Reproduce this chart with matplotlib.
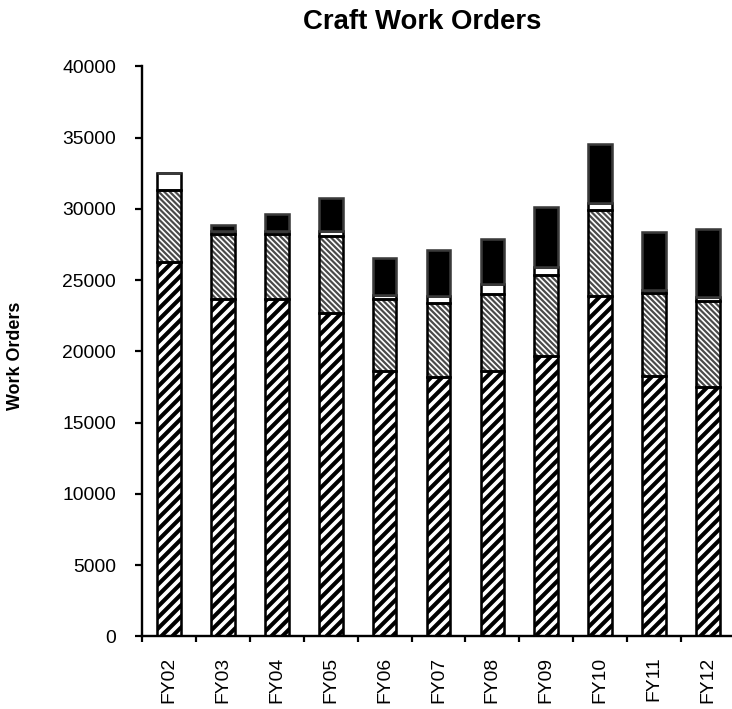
import matplotlib.pyplot as plt
import numpy as np

years = ['FY02', 'FY03', 'FY04', 'FY05', 'FY06', 'FY07', 'FY08', 'FY09', 'FY10', 'FY11', 'FY12']
striped = [26300, 23700, 23700, 22700, 18600, 18200, 18600, 19650, 23900, 18300, 17500]
fine = [5050, 4540, 4560, 5430, 5090, 5200, 5440, 5720, 6000, 5790, 6070]
white = [1150, 230, 210, 350, 300, 460, 660, 530, 490, 190, 240]
black = [0, 370, 1180, 2300, 2560, 3260, 3210, 4250, 4200, 4070, 4780]

plt.rcParams['font.family'] = ['Liberation Sans', 'DejaVu Sans']

DPI = 66
fig = plt.figure(figsize=(732 / DPI, 709 / DPI), dpi=DPI)
ax = fig.add_axes([0.194, 0.1023, 0.81, 0.804])

x = np.arange(len(years))
w = 0.44


def segment(bottom, height, face, hatch=None, hcolor='black', hlw=1.0, edge='black'):
    with plt.rc_context({'hatch.linewidth': hlw}):
        bars = ax.bar(x, height, w, bottom=bottom, color=face,
                      edgecolor=hcolor, hatch=hatch, linewidth=0, zorder=2)
    for b in bars:
        if hasattr(b, 'set_hatch_linewidth'):
            b.set_hatch_linewidth(hlw)
    ax.bar(x, height, w, bottom=bottom, facecolor='none',
           edgecolor=edge, linewidth=2.8, zorder=3)


b0 = np.zeros(len(years))
b1 = b0 + striped
b2 = b1 + fine
b3 = b2 + white

segment(b0, striped, 'black', '//', 'white', 4.0)
segment(b1, fine, 'white', '\\\\\\\\', '#4a4a4a', 2.4)
segment(b2, white, 'white')
segment(b3, black, 'black', edge='#3a3a3a')

ax.set_ylim(0, 40000)
ax.set_yticks(range(0, 40001, 5000))
ax.set_xlim(-0.5, len(years) - 0.5)
ax.set_xticks(x)
ax.set_xticklabels(years, rotation=90)
ax.set_xticks(np.arange(-0.5, len(years)), minor=True)

ax.spines['top'].set_visible(False)
ax.spines['right'].set_visible(False)
for s in ('left', 'bottom'):
    ax.spines[s].set_linewidth(2.6)

ax.tick_params(axis='y', which='major', length=7.5, width=2.4, pad=21, labelsize=21)
ax.tick_params(axis='x', which='major', length=0, pad=22, labelsize=21)
ax.tick_params(axis='x', which='minor', length=6.5, width=2.4)

fig.text(422.5 / 732, 1 - 22 / 709, 'Craft Work Orders', ha='center', va='center',
         fontsize=30, fontweight='bold')
fig.text(16 / 732, 1 - 356 / 709, 'Work Orders', ha='center', va='center',
         rotation=90, fontsize=19.5, fontweight='bold')

fig.savefig('out.png', dpi=DPI)
